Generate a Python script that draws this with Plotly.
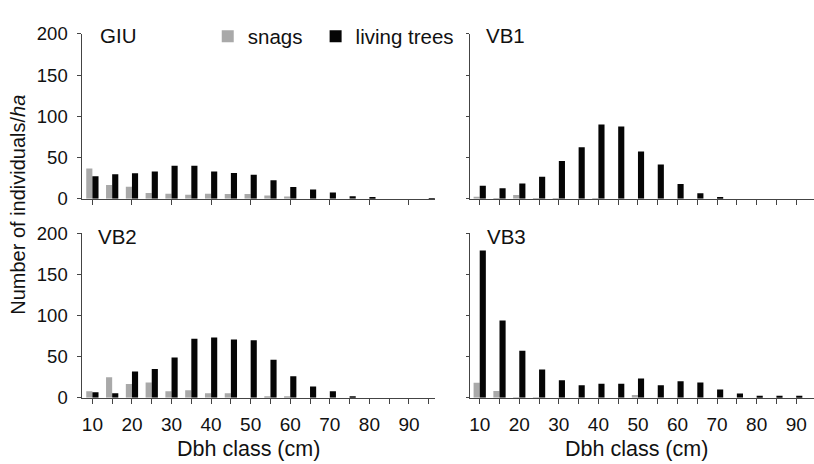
import plotly.graph_objects as go

W, H = 814, 464

dbh = [10, 15, 20, 25, 30, 35, 40, 45, 50, 55, 60, 65, 70, 75, 80, 85, 90, 95]

giu_snags = [36.7, 16.6, 14.7, 7, 6.2, 5, 6.2, 5.8, 5.8, 3.9, 2.7, 0, 0, 0, 0, 0, 0, 0]
giu_living = [27.4, 29.7, 30.9, 33.2, 40.2, 40.2, 33.2, 31.3, 29.3, 22.4, 14.3, 11.2, 7.7, 3.1, 1.5, 0, 0, 0.5]

vb1_snags = [2.5, 0.5, 4.5, 1, 0.5, 0, 0.5, 0, 0, 0, 0, 0, 0, 0, 0, 0, 0, 0]
vb1_living = [15.8, 12.7, 18.5, 26.6, 45.9, 62.5, 90, 87.6, 57.5, 41.7, 17.8, 6.6, 1.5, 0, 0, 0, 0, 0]

vb2_snags = [7.8, 24.8, 16.7, 18.6, 7.8, 8.9, 5.4, 5.4, 0, 0.8, 1.6, 0, 0, 0, 0, 0, 0, 0]
vb2_living = [6.6, 5.4, 31.8, 34.9, 48.8, 71.7, 73.3, 70.9, 69.8, 46.1, 26, 13.6, 7.8, 0.8, 0, 0, 0, 0]

vb3_snags = [18.1, 8.1, 0.4, 0.4, 0, 0, 0, 0, 3.1, 0, 0, 0, 0, 0, 0, 0, 0, 0]
vb3_living = [179, 93.8, 57.1, 34.4, 21.2, 15.1, 17, 17, 23.2, 15.1, 20.1, 18.5, 10, 5, 2.3, 2.3, 2.3, 2.3]

panels = [
    ("GIU", giu_snags, giu_living),
    ("VB1", vb1_snags, vb1_living),
    ("VB2", vb2_snags, vb2_living),
    ("VB3", vb3_snags, vb3_living),
]

y_ticks = [0, 50, 100, 150, 200]
x_label_ticks = [10, 20, 30, 40, 50, 60, 70, 80, 90]

SNAG = "#a9a9a9"
LIVE = "#050505"
AX = "#444444"
TXT = "#111111"
FONT = "Liberation Sans, Arial, sans-serif"
BW = 1.55

def px_x(p):
    return p / W

def px_y(p):
    return 1 - p / H

fig = go.Figure()

for i, (name, sn, lv) in enumerate(panels):
    xa = "x" if i == 0 else f"x{i+1}"
    ya = "y" if i == 0 else f"y{i+1}"
    fig.add_trace(go.Bar(x=dbh, y=sn, width=BW, offset=-BW, marker=dict(color=SNAG, line=dict(width=0)),
                         name="snags", showlegend=(i == 0), legend="legend",
                         xaxis=xa, yaxis=ya))
    fig.add_trace(go.Bar(x=dbh, y=lv, width=BW, offset=0, marker=dict(color=LIVE, line=dict(width=0)),
                         name="living trees", showlegend=(i == 0), legend="legend2",
                         xaxis=xa, yaxis=ya))

left_dom = [px_x(81), px_x(435)]
right_dom = [px_x(470), 1.0]
top_dom = [px_y(196.7), px_y(24)]
bot_dom = [px_y(405), px_y(232.8)]

common_x = dict(showgrid=False, zeroline=False, showline=True, linecolor=AX, linewidth=1,
                ticks="outside", ticklen=5, tickcolor=AX, tickwidth=1,
                tickfont=dict(size=19, color=TXT, family=FONT))
common_y = dict(showgrid=False, zeroline=False, showline=True, linecolor=AX, linewidth=1,
                ticks="outside", ticklen=3.5, tickcolor=AX, tickwidth=1, range=[0, 200],
                tickvals=y_ticks, tickfont=dict(size=18.5, color=TXT, family=FONT))

five = dbh
five_text = [str(v) if v in x_label_ticks else "" for v in five]

fig.update_layout(
    xaxis=dict(domain=left_dom, range=[7.35, 96.7], anchor="y", tickvals=x_label_ticks,
               showticklabels=False, **common_x),
    yaxis=dict(domain=top_dom, anchor="x", ticklabelstandoff=6, **common_y),
    xaxis2=dict(domain=right_dom, range=[7.65, 94.5], anchor="y2", tickvals=five,
                showticklabels=False, **common_x),
    yaxis2=dict(domain=top_dom, anchor="x2", showticklabels=False, **common_y),
    xaxis3=dict(domain=left_dom, range=[7.35, 96.7], anchor="y3", tickvals=five, ticktext=five_text,
                ticklabelstandoff=5, **common_x),
    yaxis3=dict(domain=bot_dom, anchor="x3", ticklabelstandoff=6, **common_y),
    xaxis4=dict(domain=right_dom, range=[7.65, 94.5], anchor="y4", tickvals=five, ticktext=five_text,
                ticklabelstandoff=5, **common_x),
    yaxis4=dict(domain=bot_dom, anchor="x4", showticklabels=False, **common_y),
)

annots = [
    dict(text="GIU", x=px_x(97), y=px_y(25.5)),
    dict(text="VB1", x=px_x(484), y=px_y(25.5)),
    dict(text="VB2", x=px_x(95.5), y=px_y(236.5)),
    dict(text="VB3", x=px_x(484.5), y=px_y(236.5)),
]
for a in annots:
    fig.add_annotation(xref="paper", yref="paper", xanchor="left", yanchor="middle", showarrow=False,
                       font=dict(size=20.5, color=TXT, family=FONT), **a)

for cx in (247.5, 636.7):
    fig.add_annotation(text="Dbh class (cm)", xref="paper", yref="paper", x=px_x(cx), y=px_y(459),
                       xanchor="center", yanchor="middle", showarrow=False,
                       font=dict(size=21.5, color=TXT, family=FONT))

fig.add_annotation(text="Number of individuals/<i>ha</i>", xref="paper", yref="paper",
                   x=px_x(17), y=px_y(203), xanchor="center", yanchor="middle", textangle=-90,
                   showarrow=False, font=dict(size=20, color=TXT, family=FONT))

leg_common = dict(orientation="h", xanchor="left", yanchor="middle",
                  font=dict(size=20.5, color=TXT, family=FONT), bgcolor="rgba(0,0,0,0)",
                  itemwidth=30)

fig.update_layout(
    width=W, height=H,
    margin=dict(l=0, r=0, t=0, b=0),
    paper_bgcolor="white", plot_bgcolor="white",
    barmode="overlay",
    font=dict(family=FONT, color=TXT),
    legend=dict(x=px_x(207), y=px_y(26.5), **leg_common),
    legend2=dict(x=px_x(315), y=px_y(26.5), **leg_common),
)

fig.write_html("out.html")
